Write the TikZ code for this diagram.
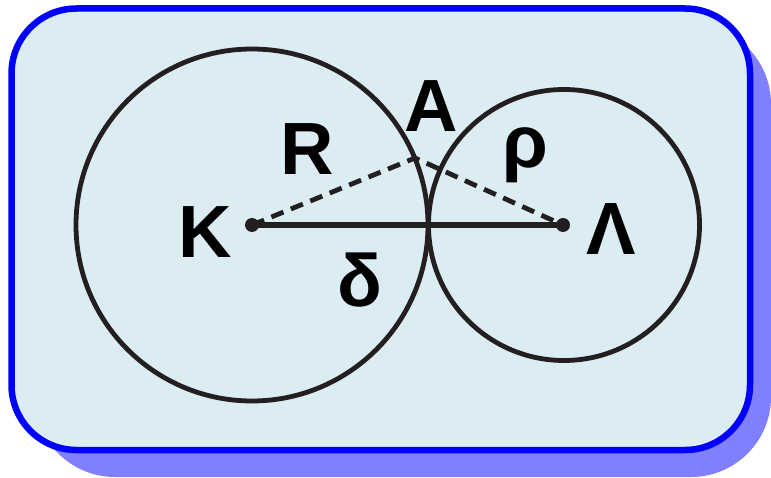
\documentclass[tikz,border=0pt]{standalone}
\usepackage{fontspec}
\setmainfont{Liberation Sans}
\begin{document}
\definecolor{boxfill}{RGB}{219,237,243}
\definecolor{boxline}{RGB}{0,0,255}
\definecolor{shadowc}{RGB}{128,128,255}
\definecolor{ink}{RGB}{35,31,32}
\tikzset{
  ring/.style={draw=ink, line width=4.8pt, circle, inner sep=0pt},
  centerdot/.style={fill=ink, circle, inner sep=0pt, minimum size=14pt},
  lbl/.style={anchor=base, inner sep=0pt, font=\fontsize{74pt}{80pt}\selectfont\bfseries, text=black},
  radius line/.style={draw=ink, line width=4.8pt, dash pattern=on 13pt off 8pt},
  join line/.style={draw=ink, line width=5.5pt}
}
\begin{tikzpicture}[x=1pt,y=-1pt]
\useasboundingbox (0,0) rectangle (771,478);
% shadow and frame
\fill[shadowc, rounded corners=80pt] (35,24) rectangle (771,477);
\filldraw[fill=boxfill, draw=boxline, line width=6.5pt, rounded corners=65pt] (11.5,8.5) rectangle (750,450);
% circles
\node[ring, minimum size=352pt] (CK) at (252,225) {};
\node[ring, minimum size=271pt] (CL) at (564,225) {};
% centres and apex
\node[centerdot] (K) at (252,225) {};
\node[centerdot] (L) at (563,225) {};
\coordinate (A) at (415,158);
% lines
\draw[join line] (K.center) -- (L.center);
\draw[radius line] (K.center) -- (A) -- (L.center);
% labels
\node[lbl] (tK) at (205,258) {K};
\node[lbl] (tL) at (611,255) {Λ};
\node[lbl] (tR) at (307.5,175) {R};
\node[lbl] (tA) at (431.5,132) {A};
\node[lbl] (trho) at (525,168) {ρ};
\node[lbl] (tdelta) at (360,306) {δ};
\end{tikzpicture}
\end{document}
